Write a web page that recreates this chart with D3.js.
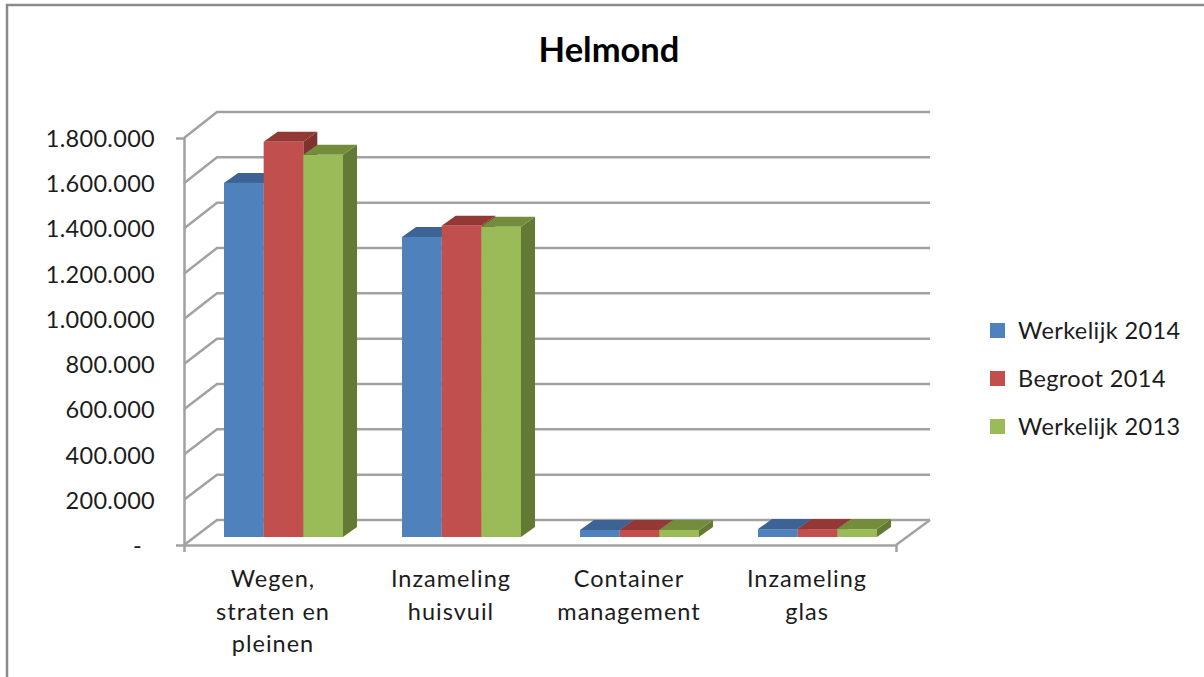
<!DOCTYPE html>
<html>
<head>
<meta charset="utf-8">
<script src="https://cdn.jsdelivr.net/npm/d3@7"></script>
<style>
html, body { margin: 0; padding: 0; background: #fff; overflow: hidden; }
svg { display: block; }
text { font-family: Lato, "Noto Sans", sans-serif; fill: #1c1c1c; }
</style>
</head>
<body>
<svg width="1204" height="677"></svg>
<script>
var categories = [
    ["Wegen,", "straten en", "pleinen"],
    ["Inzameling", "huisvuil"],
    ["Container", "management"],
    ["Inzameling", "glas"]
];
var seriesNames = ["Werkelijk 2014", "Begroot 2014", "Werkelijk 2013"];
var werkelijk2014 = [1566000, 1327000, 31000, 35000];
var begroot2014 = [1748000, 1376000, 31000, 35000];
var werkelijk2013 = [1690000, 1372000, 31000, 35000];
var tickValues = [0, 200000, 400000, 600000, 800000, 1000000, 1200000, 1400000, 1600000, 1800000];

var seriesValues = [werkelijk2014, begroot2014, werkelijk2013];
var frontColor = ["#4f81bd", "#c0504d", "#9bbb59"];
var topColor = ["#3c6494", "#943735", "#738d3e"];
var sideColor = ["#3a5f8c", "#7f302e", "#647a34"];

var svg = d3.select("svg");
var gridColor = "#a2a2a2";

var soft = svg.append("defs").append("filter").attr("id", "soft");
soft.append("feGaussianBlur").attr("stdDeviation", 0.5);

// chart frame, only top and left show in the picture
svg.append("path")
    .attr("d", "M7,677V5H1204")
    .attr("fill", "none")
    .attr("stroke", "#8a8a8a")
    .attr("stroke-width", 2.5);

var x0 = d3.scaleBand().domain(d3.range(categories.length)).range([184, 896]);
var x1 = d3.scaleBand().domain(d3.range(seriesNames.length)).range([40, 159]);

var yFront = d3.scaleLinear().domain([0, 1800000]).range([545, 138]);
var yBack = d3.scaleLinear().domain([0, 1800000]).range([520, 112]);
var yBar = d3.scaleLinear().domain([0, 1800000]).range([537, 130]);

var wallDx = 33;
var depthX = 14;
var depthY = 10;

var marks = svg.append("g").attr("filter", "url(#soft)");

// back wall lines plus the slanted part on the side wall
marks.append("g").selectAll("path")
    .data(tickValues)
    .enter().append("path")
    .attr("fill", "none")
    .attr("stroke", gridColor)
    .attr("stroke-width", 2.5)
    .attr("d", function(d) {
        return "M184," + yFront(d) + "L" + (184 + wallDx) + "," + yBack(d) + "H930";
    });

// floor edge on the right
marks.append("line")
    .attr("x1", 896).attr("y1", yFront(0))
    .attr("x2", 930).attr("y2", yBack(0))
    .attr("stroke", gridColor).attr("stroke-width", 2.5);

var yAxis = d3.axisLeft(yFront)
    .tickValues(tickValues)
    .tickSize(8)
    .tickPadding(21)
    .tickFormat(function(d) {
        return d === 0 ? "-" : d3.format(",")(d).replace(/,/g, ".");
    });

var yG = svg.append("g").attr("transform", "translate(184,0)").call(yAxis);
yG.selectAll(".domain, line")
    .attr("stroke", gridColor).attr("stroke-width", 2.5).attr("filter", "url(#soft)");
yG.selectAll("text")
    .attr("font-size", 23.5)
    .attr("y", 1)
    .style("font-family", "Lato, 'Noto Sans', sans-serif")
    .style("letter-spacing", "0.3px");
// the dash for zero sits further left, accounting style
yG.selectAll("text").filter(function(d) { return d === 0; })
    .attr("x", -42);

var xAxis = d3.axisBottom(d3.scalePoint().domain(d3.range(categories.length + 1)).range([184, 896]))
    .tickSize(7)
    .tickFormat("");
var xG = svg.append("g").attr("transform", "translate(0," + yFront(0) + ")").call(xAxis);
xG.selectAll(".domain, line")
    .attr("stroke", gridColor).attr("stroke-width", 2.5).attr("filter", "url(#soft)");

// bars, left to right so neighbours cover each other like the 3d original
var bars = svg.append("g").attr("filter", "url(#soft)");
categories.forEach(function(c, i) {
    seriesValues.forEach(function(vals, s) {
        var l = x0(i) + x1(s);
        var r = l + x1.bandwidth();
        var t = yBar(vals[i]);
        var b = yBar(0);
        bars.append("polygon")
            .attr("fill", sideColor[s])
            .attr("points", [[r, t], [r + depthX, t - depthY], [r + depthX, b - depthY], [r, b]].join(" "));
        bars.append("polygon")
            .attr("fill", topColor[s])
            .attr("points", [[l, t], [l + depthX, t - depthY], [r + depthX, t - depthY], [r, t]].join(" "));
        bars.append("rect")
            .attr("x", l).attr("y", t)
            .attr("width", x1.bandwidth()).attr("height", b - t)
            .attr("fill", frontColor[s]);
    });
});

// category labels
var catLabel = svg.append("g").selectAll("text")
    .data(categories)
    .enter().append("text")
    .attr("text-anchor", "middle")
    .attr("font-size", 23.5)
    .style("letter-spacing", "1px");
catLabel.selectAll("tspan")
    .data(function(d, i) { return d.map(function(t) { return { t: t, i: i }; }); })
    .enter().append("tspan")
    .attr("x", function(d) { return x0(d.i) + x0.bandwidth() / 2; })
    .attr("y", function(d, j) { return 587 + j * 32.5; })
    .text(function(d) { return d.t; });

// legend
var legend = svg.selectAll(".legend")
    .data(seriesNames)
    .enter().append("g")
    .attr("class", "legend")
    .attr("transform", function(d, i) { return "translate(990," + (323 + i * 48) + ")"; });
legend.append("rect")
    .attr("width", 15)
    .attr("height", 15)
    .attr("fill", function(d, i) { return frontColor[i]; })
    .attr("filter", "url(#soft)");
legend.append("text")
    .attr("x", 28)
    .attr("y", 16)
    .attr("font-size", 23.5)
    .style("letter-spacing", "0.4px")
    .text(function(d) { return d; });

svg.append("text")
    .attr("x", 609)
    .attr("y", 62)
    .attr("text-anchor", "middle")
    .attr("font-size", 34.5)
    .attr("font-weight", "bold")
    .style("fill", "#000")
    .text("Helmond");
</script>
</body>
</html>
